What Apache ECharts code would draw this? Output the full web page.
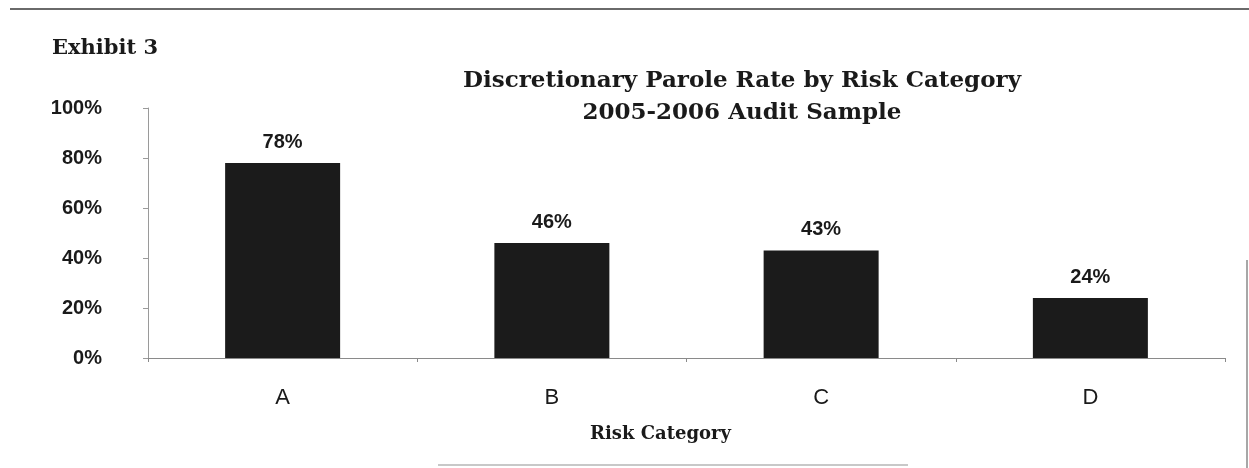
<!DOCTYPE html>
<html>
<head>
<meta charset="utf-8">
<script src="https://cdn.jsdelivr.net/npm/echarts@6/dist/echarts.min.js"></script>
<style>
  html, body { margin: 0; padding: 0; background: #fff; }
  #chart { width: 1249px; height: 468px; }
</style>
</head>
<body>
<div id="chart"></div>
<script>
// risk categories and parole rates (%)
var categories = ['A', 'B', 'C', 'D'];
var paroleRate = [78, 46, 43, 24];
var yTicks = [0, 20, 40, 60, 80, 100];

var chart = echarts.init(document.getElementById('chart'));

var serif = '"DejaVu Serif", "Liberation Serif", serif';
var sans = '"Liberation Sans", Arial, sans-serif';

var option = {
  backgroundColor: '#fff',
  animation: false,
  title: [{
    text: 'Exhibit 3',
    left: 47,
    top: 33,
    textStyle: { fontFamily: serif, fontWeight: 'bold', fontSize: 21, color: '#1a1a1a' }
  }, {
    text: 'Discretionary Parole Rate by Risk Category\n2005-2006 Audit Sample',
    left: 737,
    top: 60,
    textAlign: 'center',
    textStyle: { fontFamily: serif, fontWeight: 'bold', fontSize: 23, color: '#1a1a1a', lineHeight: 32 }
  }],
  grid: {
    left: 148,
    right: 24,
    top: 108,
    bottom: 110,
    containLabel: false
  },
  xAxis: {
    type: 'category',
    data: categories,
    axisLine: { lineStyle: { color: '#8a8a8a', width: 1 } },
    axisTick: { show: true, length: 4, lineStyle: { color: '#8a8a8a' } },
    axisLabel: { margin: 29, fontFamily: sans, fontSize: 22, color: '#1a1a1a' }
  },
  yAxis: {
    type: 'value',
    min: 0,
    max: 100,
    interval: 20,
    axisLine: { show: true, lineStyle: { color: '#9a9a9a', width: 1 } },
    axisTick: { show: true, length: 5, lineStyle: { color: '#9a9a9a' } },
    splitLine: { show: false },
    axisLabel: {
      margin: 46,
      fontFamily: sans,
      fontWeight: 'bold',
      fontSize: 20,
      color: '#1a1a1a',
      formatter: function (v) { return yTicks.indexOf(v) >= 0 ? v + '%' : ''; }
    }
  },
  graphic: [{
    type: 'line',
    shape: { x1: 10, y1: 9, x2: 1249, y2: 9 },
    style: { stroke: '#6a6a6a', lineWidth: 2 }
  }, {
    type: 'line',
    shape: { x1: 1247, y1: 260, x2: 1247, y2: 468 },
    style: { stroke: '#8a8a8a', lineWidth: 1.5 }
  }, {
    type: 'line',
    shape: { x1: 438, y1: 465, x2: 908, y2: 465 },
    style: { stroke: '#c8c8c8', lineWidth: 2 }
  }, {
    type: 'text',
    left: 590,
    top: 425,
    style: {
      text: 'Risk Category',
      font: 'bold 18px ' + serif,
      fill: '#1a1a1a'
    }
  }],
  series: [{
    type: 'bar',
    data: paroleRate,
    barWidth: 115,
    itemStyle: { color: '#1b1b1b' },
    label: {
      show: true,
      position: 'top',
      distance: 11,
      formatter: '{c}%',
      fontFamily: sans,
      fontWeight: 'bold',
      fontSize: 20,
      color: '#1a1a1a'
    }
  }]
};

chart.setOption(option);
</script>
</body>
</html>
